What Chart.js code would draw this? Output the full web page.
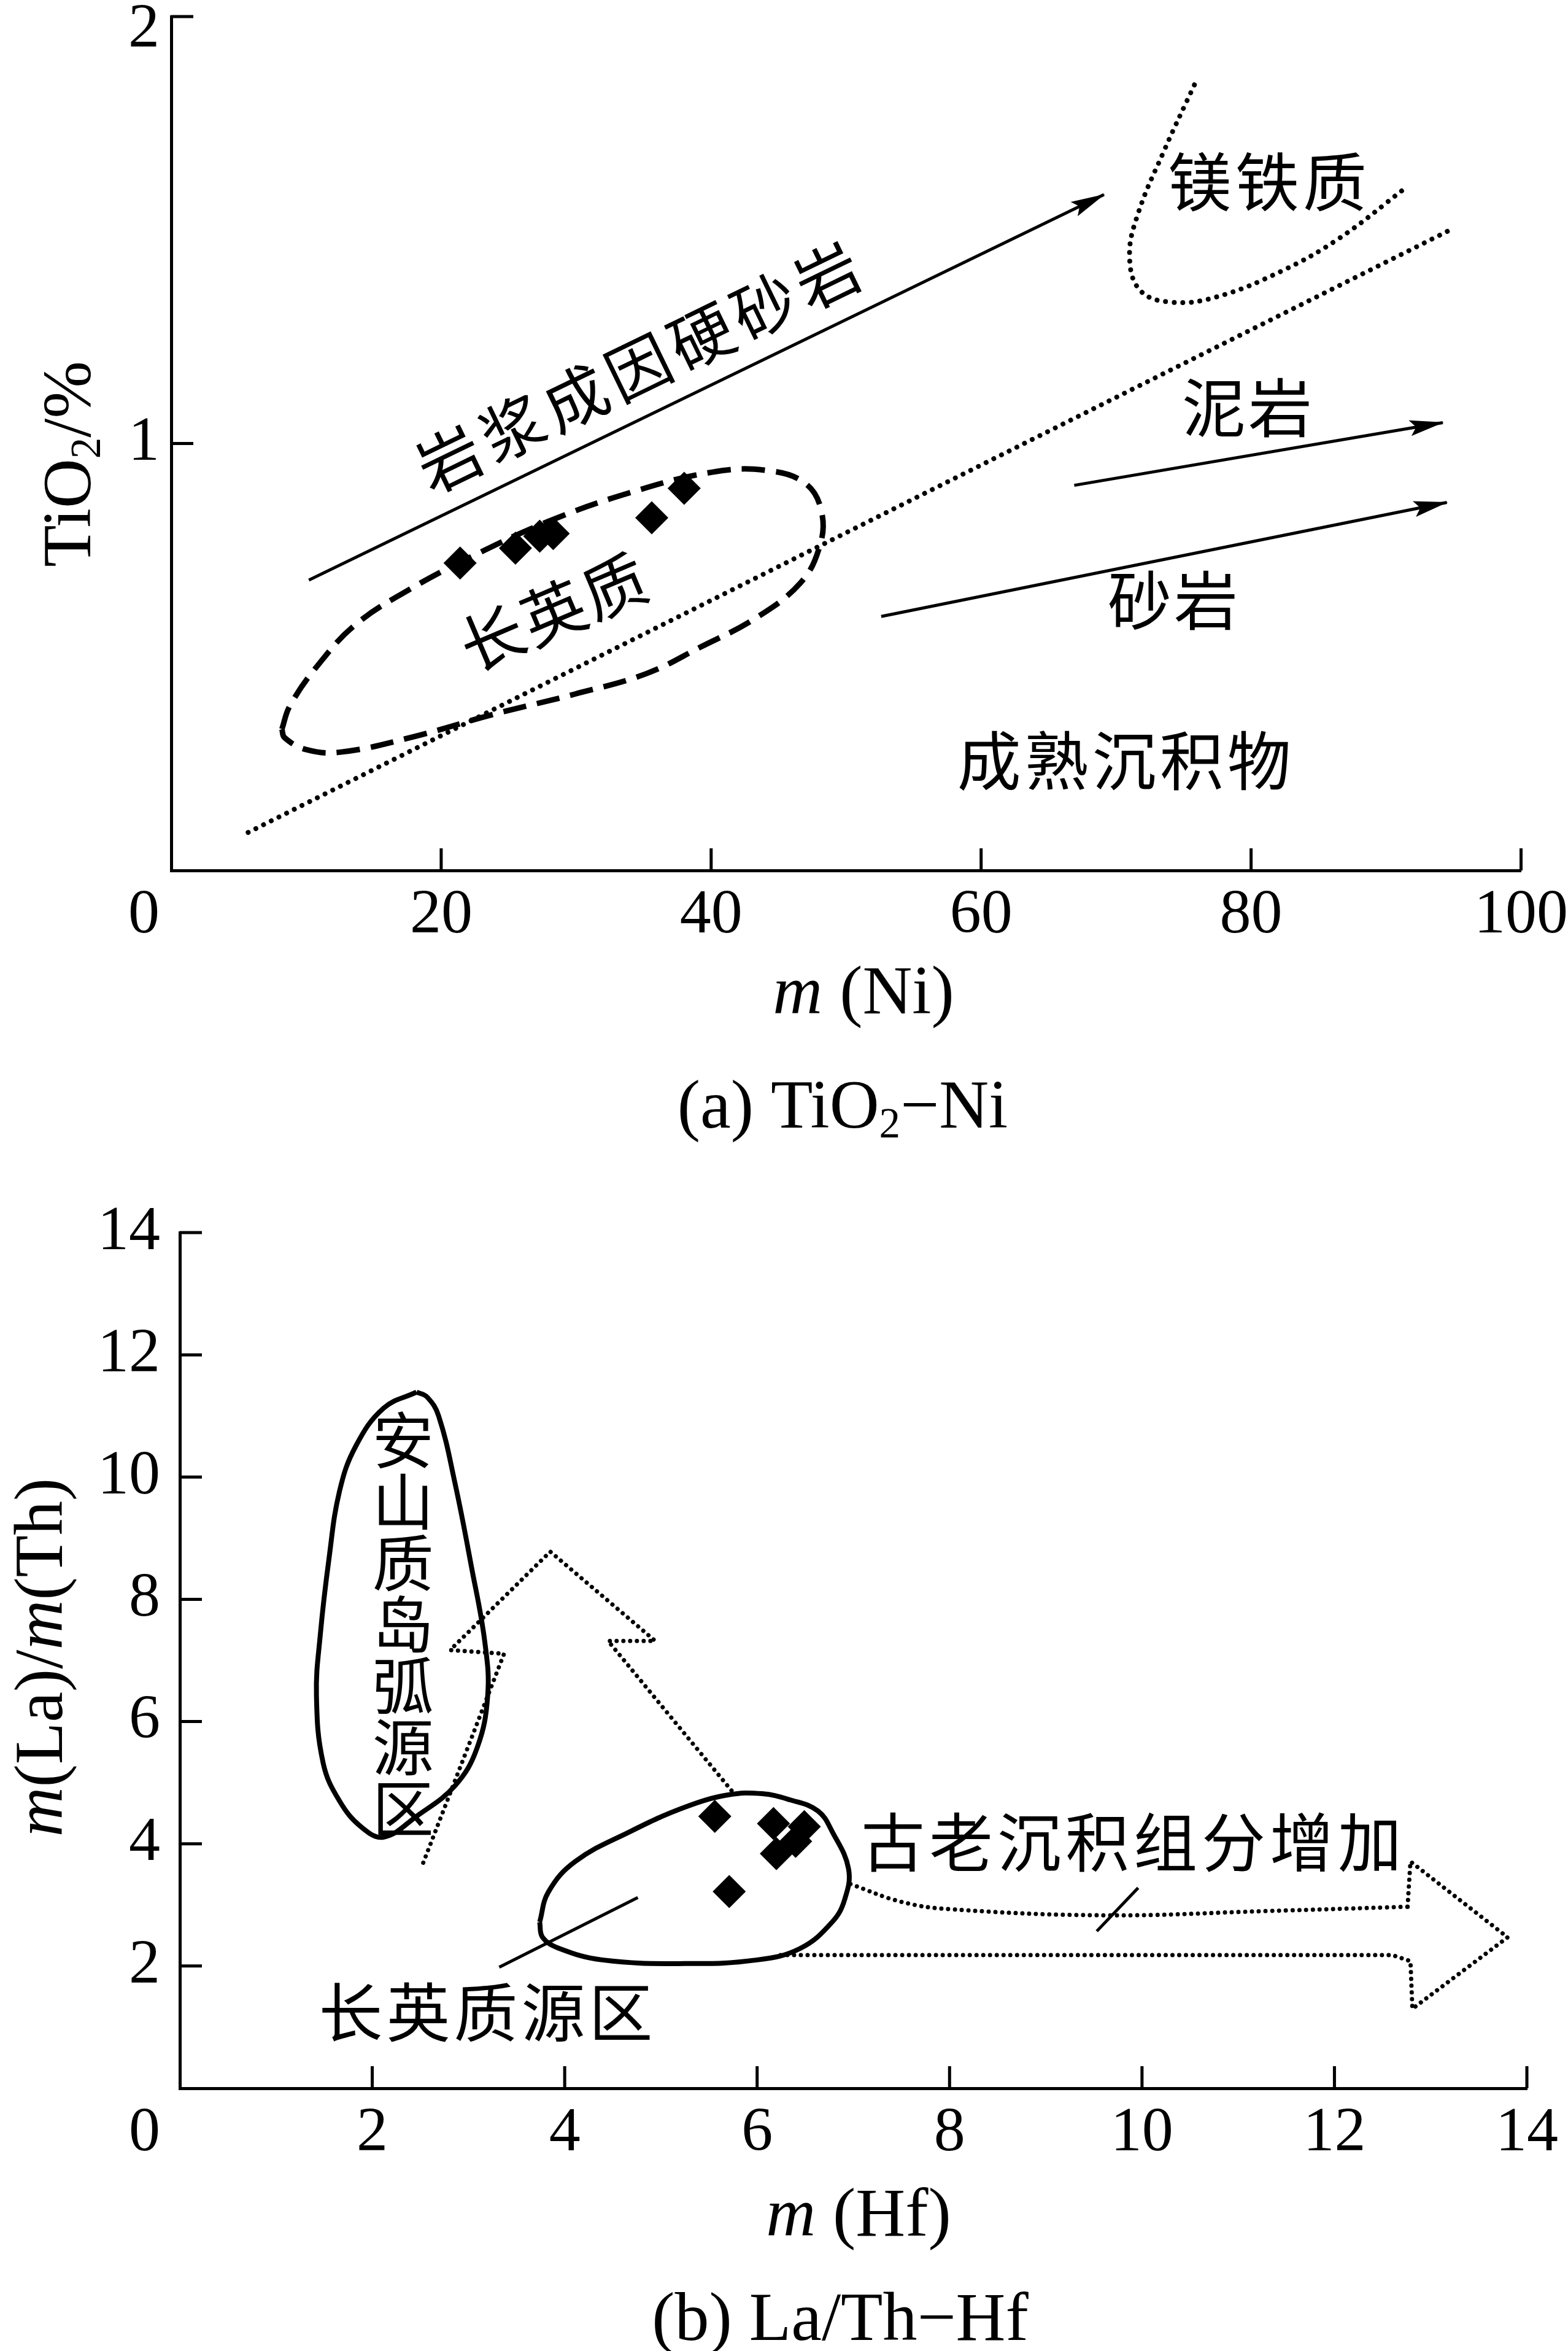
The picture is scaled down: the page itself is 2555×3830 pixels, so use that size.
<!DOCTYPE html>
<html>
<head>
<meta charset="utf-8">
<script src="https://cdn.jsdelivr.net/npm/chart.js@4.4.1/dist/chart.umd.min.js"></script>
<style>
  html, body { margin: 0; padding: 0; background: #fff; }
  #wrap { position: relative; width: 2555px; height: 3830px; }
  canvas { position: absolute; left: 0; }
  #chart-a { top: 0; }
  #chart-b { top: 1900px; }
</style>
</head>
<body>
<div id="wrap">
  <canvas id="chart-a" width="2555" height="1900" style="width:2555px;height:1900px"></canvas>
  <canvas id="chart-b" width="2555" height="1930" style="width:2555px;height:1930px"></canvas>
</div>
<script>
// ---------- (a) TiO2 - Ni ----------
const niTicks = [0, 20, 40, 60, 80, 100];
const tiTicks = [0, 1, 2];
const sampleNi = [21.4, 25.5, 27.3, 28.3, 35.6, 38.0];
const sampleTi = [0.72, 0.755, 0.783, 0.789, 0.826, 0.895];
const igneousNi = [10.2, 69.1];          // 岩浆成因硬砂岩 trend
const igneousTi = [0.68, 1.583];
const mudNi = [66.9, 94.2];              // 泥岩 trend
const mudTi = [0.902, 1.049];
const sandNi = [52.6, 94.5];             // 砂岩 trend
const sandTi = [0.595, 0.862];
const boundaryNi = [5.7, 94.8];          // dotted divider
const boundaryTi = [0.089, 1.501];
const maficNi = [75.8, 73.6, 71.6, 71.0, 71.8, 74.1, 77.4, 82.2, 86.5, 91.5];
const maficTi = [1.84, 1.689, 1.536, 1.436, 1.358, 1.331, 1.343, 1.403, 1.48, 1.60];
const felsicNi = [8.2, 8.8, 10.9, 13.7, 17.7, 21.8, 27.9, 34.0, 40.1, 44.1, 47.0, 48.2, 48.0, 46.6, 43.3, 39.2, 35.2, 29.9, 23.8, 17.7, 12.5, 10.0, 8.4, 8.2];
const felsicTi = [0.331, 0.386, 0.482, 0.577, 0.659, 0.728, 0.817, 0.885, 0.933, 0.937, 0.906, 0.837, 0.755, 0.673, 0.591, 0.523, 0.461, 0.413, 0.365, 0.311, 0.277, 0.283, 0.311, 0.331];

// ---------- (b) La/Th - Hf ----------
const hfTicks = [0, 2, 4, 6, 8, 10, 12, 14];
const laThTicks = [0, 2, 4, 6, 8, 10, 12, 14];
const sampleHf = [5.56, 6.17, 6.49, 6.40, 6.20, 5.71];
const sampleLaTh = [4.45, 4.33, 4.28, 4.04, 3.84, 3.22];
const andesiteHf = [2.46, 2.12, 1.83, 1.66, 1.55, 1.46, 1.42, 1.49, 1.66, 1.89, 2.12, 2.46, 2.86, 3.09, 3.20, 3.17, 3.03, 2.86, 2.69, 2.57, 2.46];
const andesiteLaTh = [11.39, 11.13, 10.51, 9.77, 8.66, 7.42, 6.43, 5.32, 4.70, 4.27, 4.11, 4.45, 4.95, 5.57, 6.43, 7.30, 8.54, 9.90, 11.0, 11.31, 11.39];
const felsicSrcHf = [3.74, 3.83, 4.11, 4.68, 5.25, 5.70, 6.05, 6.34, 6.63, 6.78, 6.95, 6.91, 6.78, 6.45, 6.00, 5.25, 4.39, 3.94, 3.77, 3.74];
const felsicSrcLaTh = [2.72, 3.21, 3.71, 4.20, 4.60, 4.80, 4.82, 4.72, 4.54, 4.20, 3.59, 3.09, 2.72, 2.29, 2.10, 2.04, 2.10, 2.29, 2.47, 2.72];
const upArrowHf = [2.53, 3.37, 2.81, 3.85, 4.94, 4.45, 5.76];
const upArrowLaTh = [3.69, 7.11, 7.17, 8.78, 7.32, 7.32, 4.82];
const oldUpperHf = [6.97, 7.5, 8.0, 9.64, 11.3, 12.76];
const oldUpperLaTh = [3.34, 3.05, 2.93, 2.83, 2.90, 2.97];
const oldHeadHf = [12.76, 12.79, 13.80, 12.81, 12.79, 12.6, 6.2];
const oldHeadLaTh = [2.97, 3.71, 2.47, 1.30, 2.08, 2.18, 2.18];
const felsicLeaderHf = [4.76, 3.32];
const felsicLeaderLaTh = [3.12, 1.98];
const oldLeaderHf = [9.53, 9.96];
const oldLeaderLaTh = [2.57, 3.28];

const SERIF = '"Liberation Serif", "Times New Roman", serif';
const HAN = '"Noto Sans CJK SC", sans-serif';

function pts(xs, ys) {
  return xs.map((x, i) => ({ x: x, y: ys[i] }));
}

function path(xs, ys, style) {
  return Object.assign({
    data: pts(xs, ys),
    showLine: true,
    pointRadius: 0,
    pointHoverRadius: 0,
    borderColor: '#000',
    backgroundColor: '#000',
    borderWidth: 5,
    tension: 0,
    fill: false
  }, style);
}

function markers(xs, ys) {
  return {
    data: pts(xs, ys),
    showLine: false,
    pointStyle: 'rectRot',
    pointRadius: 27,
    pointHoverRadius: 27,
    backgroundColor: '#000',
    borderWidth: 0
  };
}

function axis(min, max, ticks, isX, size, pad, hide) {
  return {
    type: 'linear',
    min: min,
    max: max,
    afterBuildTicks: s => { s.ticks = ticks.map(v => ({ value: v })); },
    afterFit: s => { if (isX) s.height = size; else s.width = size; },
    grid: { display: false, drawTicks: false },
    border: { display: true, color: '#000', width: 5 },
    ticks: {
      color: '#000',
      padding: pad,
      autoSkip: false,
      maxRotation: 0,
      font: { family: SERIF, size: 102, lineHeight: isX ? 1.46 : 0.01 },
      callback: v => hide.includes(v) ? '' : String(v)
    }
  };
}

// text made of runs: {t, it (italic), sub (subscript)}
function drawRuns(ctx, runs, cx, cy, size, rot) {
  ctx.save();
  ctx.translate(cx, cy);
  ctx.rotate(rot || 0);
  ctx.fillStyle = '#000';
  ctx.textBaseline = 'middle';
  ctx.textAlign = 'left';
  const fontOf = r => (r.it ? 'italic ' : '') + Math.round(r.sub ? size * 0.62 : size) + 'px ' + SERIF;
  let total = 0;
  runs.forEach(r => { ctx.font = fontOf(r); r.w = ctx.measureText(r.t).width; total += r.w; });
  let x = -total / 2;
  runs.forEach(r => {
    ctx.font = fontOf(r);
    ctx.fillText(r.t, x, r.sub ? size * 0.24 : 0);
    x += r.w;
  });
  ctx.restore();
}

// Chinese label, one glyph at a time
function drawHan(ctx, text, cx, cy, size, step, angle, vertical) {
  const chars = Array.from(text);
  const n = chars.length;
  ctx.save();
  ctx.fillStyle = '#000';
  ctx.font = size + 'px ' + HAN;
  ctx.textAlign = 'center';
  ctx.textBaseline = 'middle';
  chars.forEach((c, i) => {
    const off = (i - (n - 1) / 2) * step;
    const dx = vertical ? 0 : off * Math.cos(angle);
    const dy = vertical ? off : off * Math.sin(angle);
    ctx.save();
    ctx.translate(cx + dx, cy + dy);
    if (!vertical) ctx.rotate(angle);
    ctx.fillText(c, 0, 0);
    ctx.restore();
  });
  ctx.restore();
}

const decor = {
  id: 'decor',
  afterDatasetsDraw(chart) {
    const ctx = chart.ctx;
    chart.data.datasets.forEach((ds, i) => {
      if (!ds.arrow) return;
      const els = chart.getDatasetMeta(i).data;
      const a = els[els.length - 2], b = els[els.length - 1];
      const ang = Math.atan2(b.y - a.y, b.x - a.x);
      ctx.save();
      ctx.translate(b.x, b.y);
      ctx.rotate(ang);
      ctx.fillStyle = '#000';
      ctx.beginPath();
      ctx.moveTo(2, 0);
      ctx.lineTo(-54, -13);
      ctx.lineTo(-44, 0);
      ctx.lineTo(-54, 13);
      ctx.closePath();
      ctx.fill();
      ctx.restore();
    });
  },
  afterDraw(chart, args, opts) {
    const ctx = chart.ctx;
    const xs = chart.scales.x, ys = chart.scales.y;
    const area = chart.chartArea;

    // inward tick marks
    ctx.save();
    ctx.strokeStyle = '#000';
    ctx.lineWidth = 5;
    ctx.beginPath();
    opts.xTicks.forEach(v => {
      if (v === 0) return;
      const px = xs.getPixelForValue(v);
      ctx.moveTo(px, area.bottom);
      ctx.lineTo(px, area.bottom - 36);
    });
    opts.yTicks.forEach(v => {
      if (v === 0) return;
      const py = ys.getPixelForValue(v);
      ctx.moveTo(area.left, py);
      ctx.lineTo(area.left + 36, py);
    });
    ctx.stroke();
    ctx.restore();

    // labels that Chart.js leaves out: shared origin "0" and clipped top value
    ctx.save();
    ctx.fillStyle = '#000';
    ctx.font = '102px ' + SERIF;
    ctx.textAlign = 'right';
    ctx.textBaseline = 'middle';
    const lx = area.left - opts.yPad;
    ctx.fillText('0', lx, area.bottom + 74);
    (opts.extraY || []).forEach(e => ctx.fillText(String(e.v), lx, ys.getPixelForValue(e.v) + e.dy));
    ctx.restore();

    // axis titles and caption
    drawRuns(ctx, opts.yTitle.runs, opts.yTitle.x, opts.yTitle.y, 112, -Math.PI / 2);
    drawRuns(ctx, opts.xTitle.runs, opts.xTitle.x, opts.xTitle.y, 112, 0);
    drawRuns(ctx, opts.caption.runs, opts.caption.x, opts.caption.y, 112, 0);

    // region names, anchored in data space
    opts.names.forEach(n => {
      drawHan(ctx, n.t, xs.getPixelForValue(n.x), ys.getPixelForValue(n.y),
        n.size || 104, n.step, (n.angle || 0) * Math.PI / 180, n.vertical);
    });
  }
};

const dottedA = { borderWidth: 8, borderDash: [0.01, 14], borderCapStyle: 'round' };
const dottedB = { borderWidth: 7, borderDash: [0.01, 11], borderCapStyle: 'round' };

new Chart(document.getElementById('chart-a'), {
  type: 'scatter',
  data: {
    datasets: [
      markers(sampleNi, sampleTi),
      path(igneousNi, igneousTi, { arrow: true }),
      path(mudNi, mudTi, { arrow: true }),
      path(sandNi, sandTi, { arrow: true }),
      path(boundaryNi, boundaryTi, dottedA),
      path(maficNi, maficTi, Object.assign({ tension: 0.4 }, dottedA)),
      path(felsicNi, felsicTi, { tension: 0.4, borderWidth: 9, borderDash: [38, 18] })
    ]
  },
  options: {
    responsive: false,
    animation: false,
    devicePixelRatio: 1,
    events: [],
    layout: { padding: { left: 0, right: 75, top: 19, bottom: 0 } },
    scales: {
      x: axis(0, 100, niTicks, true, 482, 0, [0]),
      y: axis(0, 2, tiTicks, false, 279, 19, [0, 2])
    },
    plugins: {
      legend: { display: false },
      tooltip: { enabled: false },
      decor: {
        xTicks: niTicks,
        yTicks: tiTicks,
        yPad: 19,
        extraY: [{ v: 2, dy: 22 }],
        yTitle: { x: 118, y: 756, runs: [{ t: 'TiO' }, { t: '2', sub: true }, { t: '/%' }] },
        xTitle: { x: 1407, y: 1622, runs: [{ t: 'm', it: true }, { t: ' (Ni)' }] },
        caption: { x: 1373, y: 1808, runs: [{ t: '(a) TiO' }, { t: '2', sub: true }, { t: '\u2212Ni' }] },
        names: [
          { t: '岩浆成因硬砂岩', x: 34.6, y: 1.179, step: 114, angle: -25.9 },
          { t: '镁铁质', x: 81.2, y: 1.612, step: 110 },
          { t: '泥岩', x: 79.7, y: 1.084, step: 108 },
          { t: '砂岩', x: 74.2, y: 0.632, step: 108 },
          { t: '成熟沉积物', x: 70.6, y: 0.256, step: 110 },
          { t: '长英质', x: 28.3, y: 0.605, step: 108, angle: -23 }
        ]
      }
    }
  },
  plugins: [decor]
});

new Chart(document.getElementById('chart-b'), {
  type: 'scatter',
  data: {
    datasets: [
      markers(sampleHf, sampleLaTh),
      path(andesiteHf, andesiteLaTh, { tension: 0.4, borderWidth: 8 }),
      path(felsicSrcHf, felsicSrcLaTh, { tension: 0.4, borderWidth: 8 }),
      path(felsicLeaderHf, felsicLeaderLaTh, { borderWidth: 5 }),
      path(oldLeaderHf, oldLeaderLaTh, { borderWidth: 5 }),
      path(upArrowHf, upArrowLaTh, dottedB),
      path(oldUpperHf, oldUpperLaTh, Object.assign({ tension: 0.4 }, dottedB)),
      path(oldHeadHf, oldHeadLaTh, dottedB)
    ]
  },
  options: {
    responsive: false,
    animation: false,
    devicePixelRatio: 1,
    events: [],
    layout: { padding: { left: 0, right: 67, top: 108, bottom: 0 } },
    scales: {
      x: axis(0, 14, hfTicks, true, 428, 0, [0]),
      y: axis(0, 14, laThTicks, false, 293, 32, [0])
    },
    plugins: {
      legend: { display: false },
      tooltip: { enabled: false },
      decor: {
        xTicks: hfTicks,
        yTicks: laThTicks,
        yPad: 32,
        yTitle: { x: 72, y: 800, runs: [{ t: 'm', it: true }, { t: '(La)/' }, { t: 'm', it: true }, { t: '(Th)' }] },
        xTitle: { x: 1399, y: 1713, runs: [{ t: 'm', it: true }, { t: ' (Hf)' }] },
        caption: { x: 1369, y: 1883, runs: [{ t: '(b) La/Th\u2212Hf' }] },
        names: [
          { t: '安山质岛弧源区', x: 2.32, y: 7.59, step: 100, size: 100, vertical: true },
          { t: '长英质源区', x: 3.18, y: 1.24, step: 110 },
          { t: '古老沉积组分增加', x: 9.89, y: 4.02, step: 111 }
        ]
      }
    }
  },
  plugins: [decor]
});
</script>
</body>
</html>
